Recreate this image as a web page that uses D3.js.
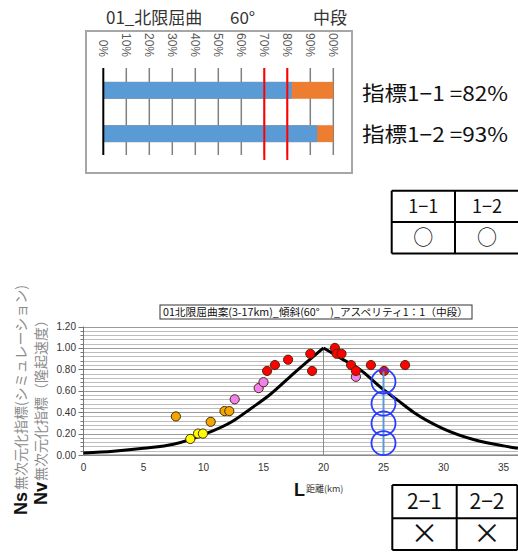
<!DOCTYPE html>
<html>
<head>
<meta charset="utf-8">
<script src="https://cdn.jsdelivr.net/npm/d3@7"></script>
<style>
  body { margin: 0; background: #fff; }
  svg { display: block; font-family: "Noto Sans CJK JP", sans-serif; }
</style>
</head>
<body>
<svg id="chart" width="518" height="552"></svg>
<script>
// --- top chart: indicator bars ---
var barCats = ["1-1", "1-2"];
var barBlue = [82, 93];          // percent
var barTicks = [0, 10, 20, 30, 40, 50, 60, 70, 80, 90, 100];
var redLines = [70, 80];

// --- bottom chart: ratio vs distance ---
var curveLeftX  = [0, 2.5, 5, 7.5, 10, 12.5, 13.9, 15.5, 17.5, 20];
var curveLeftY  = [0.018, 0.035, 0.062, 0.10, 0.19, 0.32, 0.43, 0.56, 0.76, 1.0];
var curveRightX = [20, 21.5, 23, 25, 26.2, 27.5, 30, 32.5, 35, 36.2];
var curveRightY = [1.0, 0.9, 0.8, 0.61, 0.51, 0.40, 0.245, 0.145, 0.085, 0.063];

var yellowPts = [[8.9, 0.15], [9.55, 0.2], [9.95, 0.2]];
var orangePts = [[7.7, 0.36], [10.6, 0.31], [11.75, 0.41], [12.15, 0.41]];
var pinkPts   = [[12.6, 0.52], [14.6, 0.625], [15.0, 0.68], [22.7, 0.73]];
var redPts    = [[15.3, 0.785], [15.95, 0.84], [17.05, 0.89], [18.9, 0.945], [19.05, 0.785],
                 [20.95, 1.0], [21.1, 0.945], [21.5, 0.945], [22.3, 0.84], [22.7, 0.785],
                 [23.95, 0.84], [25.05, 0.785], [26.8, 0.84]];
var obsX = 25, obsTop = 0.78;
var loopCenters = [0.685, 0.48, 0.295, 0.11];
var xTicks = [0, 5, 10, 15, 20, 25, 30, 35];
var yTicks = [0, 0.2, 0.4, 0.6, 0.8, 1.0, 1.2];
var yGrid = d3.range(0, 31).map(function(i) { return i * 0.04; });

var svg = d3.select("#chart");

// ===== top chart =====
svg.append("text").attr("x", 106).attr("y", 24).attr("font-size", 17).attr("fill", "#333")
  .text("01_北限屈曲");
svg.append("text").attr("x", 230).attr("y", 24).attr("font-size", 17).attr("fill", "#333")
  .text("60°");
svg.append("text").attr("x", 313).attr("y", 24).attr("font-size", 17).attr("fill", "#333")
  .text("中段");

svg.append("clipPath").attr("id", "boxclip")
  .append("rect").attr("x", 87).attr("y", 32).attr("width", 264).attr("height", 140);

var topG = svg.append("g");
topG.append("rect").attr("x", 86).attr("y", 31).attr("width", 266).attr("height", 142)
  .attr("fill", "#fff").attr("stroke", "#a6a6a6").attr("stroke-width", 2);

var bx = d3.scaleLinear().domain([0, 100]).range([103.3, 333.3]);
var by = d3.scaleBand().domain(barCats).range([68, 156]).paddingInner(0.61).paddingOuter(0.32);

topG.append("g").attr("clip-path", "url(#boxclip)")
  .selectAll("text").data(barTicks).enter().append("text")
  .attr("transform", function(d) { return "translate(" + bx(d) + ",57) rotate(90)"; })
  .attr("text-anchor", "end").attr("dy", "0.35em")
  .attr("font-family", "Liberation Sans, Arial, sans-serif")
  .attr("font-size", 12).attr("fill", "#595959")
  .text(function(d) { return d + "%"; });

topG.selectAll(".grid").data(barTicks.slice(1)).enter().append("line")
  .attr("x1", bx).attr("x2", bx).attr("y1", 68).attr("y2", 155)
  .attr("stroke", "#808080").attr("stroke-width", 1.5);

topG.selectAll(".orange").data(barCats).enter().append("rect")
  .attr("x", bx(0)).attr("y", function(d) { return by(d); })
  .attr("width", bx(100) - bx(0)).attr("height", by.bandwidth())
  .attr("fill", "#ED7D31");
topG.selectAll(".blue").data(barCats).enter().append("rect")
  .attr("x", bx(0)).attr("y", function(d) { return by(d); })
  .attr("width", function(d, i) { return bx(barBlue[i]) - bx(0); })
  .attr("height", by.bandwidth())
  .attr("fill", "#5B9BD5");

topG.append("line").attr("x1", bx(0)).attr("x2", bx(0)).attr("y1", 68).attr("y2", 155)
  .attr("stroke", "#000").attr("stroke-width", 2);

topG.selectAll(".red").data(redLines).enter().append("line")
  .attr("x1", bx).attr("x2", bx).attr("y1", 68).attr("y2", 160)
  .attr("stroke", "#ff0000").attr("stroke-width", 2);

// indicator texts
barCats.forEach(function(c, i) {
  svg.append("text").attr("x", 362).attr("y", [101, 142][i])
    .attr("font-size", 20).attr("fill", "#111")
    .attr("textLength", 146).attr("lengthAdjust", "spacingAndGlyphs")
    .text("指標" + c.replace("-", "−") + " =" + barBlue[i] + "%");
});

// judgement tables
function table(x0, x1, xm, ys, heads, marks, rightBorder, headSize, markSize) {
  var g = svg.append("g").attr("stroke", "#000").attr("stroke-width", 2);
  ys.forEach(function(yy) {
    g.append("line").attr("x1", x0).attr("x2", x1).attr("y1", yy).attr("y2", yy);
  });
  var xs = rightBorder ? [x0, xm, x1] : [x0, xm];
  xs.forEach(function(xx) {
    g.append("line").attr("x1", xx).attr("x2", xx).attr("y1", ys[0]).attr("y2", ys[2]);
  });
  var cx = [(x0 + xm) / 2, (xm + (rightBorder ? x1 : xm + 64)) / 2];
  heads.forEach(function(h, i) {
    svg.append("text").attr("x", cx[i]).attr("y", (ys[0] + ys[1]) / 2).attr("dy", "0.36em")
      .attr("text-anchor", "middle").attr("font-size", headSize).attr("fill", "#111").text(h);
    svg.append("text").attr("x", cx[i]).attr("y", (ys[1] + ys[2]) / 2).attr("dy", "0.36em")
      .attr("text-anchor", "middle").attr("font-size", markSize).attr("fill", "#111").text(marks[i]);
  });
}
table(391.7, 520, 455, [190.7, 222, 253.5], ["1−1", "1−2"], ["○", "○"], false, 18, 20);
table(392.3, 517.3, 456.7, [485, 518.3, 550], ["2−1", "2−2"], ["×", "×"], true, 21, 28);

// ===== bottom chart =====
var x = d3.scaleLinear().domain([0, 36.2]).range([83.5, 517.9]);
var y = d3.scaleLinear().domain([0, 1.2]).range([455, 326.5]);

var plot = svg.append("g");
plot.selectAll(".hg").data(yGrid).enter().append("line")
  .attr("x1", x(0)).attr("x2", 518)
  .attr("y1", function(d) { return Math.round(y(d)) + 0.5; })
  .attr("y2", function(d) { return Math.round(y(d)) + 0.5; })
  .attr("stroke", function(d, i) { return i % 5 === 0 ? "#9a9a9a" : "#bdbdbd"; })
  .attr("stroke-width", 1);

// y axis with minor ticks
plot.append("line").attr("x1", x(0)).attr("x2", x(0)).attr("y1", y(0)).attr("y2", y(1.2))
  .attr("stroke", "#777").attr("stroke-width", 1);
plot.selectAll(".yt").data(yGrid).enter().append("line")
  .attr("x1", function(d, i) { return x(0) - (i % 5 === 0 ? 5 : 3); }).attr("x2", x(0))
  .attr("y1", function(d) { return Math.round(y(d)) + 0.5; })
  .attr("y2", function(d) { return Math.round(y(d)) + 0.5; })
  .attr("stroke", "#777");
plot.selectAll(".yl").data(yTicks).enter().append("text")
  .attr("x", 76).attr("y", y).attr("dy", "0.35em").attr("text-anchor", "end")
  .attr("font-family", "Liberation Sans, Arial, sans-serif").attr("font-size", 10).attr("fill", "#333")
  .text(d3.format(".2f"));

plot.append("line").attr("x1", x(0)).attr("x2", 518).attr("y1", y(0)).attr("y2", y(0))
  .attr("stroke", "#777");
plot.selectAll(".xl").data(xTicks).enter().append("text")
  .attr("x", x).attr("y", 467).attr("dy", "0.35em").attr("text-anchor", "middle")
  .attr("font-family", "Liberation Sans, Arial, sans-serif").attr("font-size", 10).attr("fill", "#333")
  .text(function(d) { return d; });

// vertical line at peak
plot.append("line").attr("x1", x(20)).attr("x2", x(20)).attr("y1", y(0)).attr("y2", y(1.0))
  .attr("stroke", "#8c8c8c").attr("stroke-width", 1);

// attenuation curve (two halves for a sharp peak)
var line = d3.line().x(function(d) { return x(d[0]); }).y(function(d) { return y(d[1]); })
  .curve(d3.curveMonotoneX);
[d3.zip(curveLeftX, curveLeftY), d3.zip(curveRightX, curveRightY)].forEach(function(pts) {
  plot.append("path").attr("d", line(pts)).attr("fill", "none")
    .attr("stroke", "#000").attr("stroke-width", 3).attr("stroke-linejoin", "round");
});

// scatter points
[[yellowPts, "#ffff00"], [orangePts, "#f0a800"], [pinkPts, "#ee82ee"], [redPts, "#ff0000"]]
  .forEach(function(s) {
    plot.selectAll(null).data(s[0]).enter().append("circle")
      .attr("cx", function(d) { return x(d[0]); }).attr("cy", function(d) { return y(d[1]); })
      .attr("r", 4.6).attr("fill", s[1]).attr("stroke", "#4a2a10").attr("stroke-width", 1);
  });

// observation column with loops
plot.append("line").attr("x1", x(obsX)).attr("x2", x(obsX)).attr("y1", y(0)).attr("y2", y(obsTop))
  .attr("stroke", "#5b9bd5").attr("stroke-width", 2);
plot.selectAll(".loop").data(loopCenters).enter().append("circle")
  .attr("cx", x(obsX)).attr("cy", y).attr("r", 12)
  .attr("fill", "none").attr("stroke", "#2a3cff").attr("stroke-width", 1.8);

// chart title box
svg.append("rect").attr("x", 160).attr("y", 305).attr("width", 312).attr("height", 14)
  .attr("fill", "#fff").attr("stroke", "#333").attr("stroke-width", 1);
svg.append("text").attr("x", 163).attr("y", 312).attr("dy", "0.36em").attr("font-size", 10.5)
  .attr("fill", "#111").attr("textLength", 305).attr("lengthAdjust", "spacingAndGlyphs")
  .text("01北限屈曲案(3-17km)_傾斜(60°　)_アスペリティ1：1（中段）");

// axis titles
svg.append("text").attr("transform", "translate(20.5,490) rotate(-90)").attr("dy", "0.36em")
  .attr("font-size", 14).attr("fill", "#8c8c8c").text("無次元化指標(シミュレーション)");
svg.append("text").attr("transform", "translate(20.5,515) rotate(-90)").attr("dy", "0.36em")
  .attr("font-family", "Liberation Sans, Arial, sans-serif").attr("font-weight", "bold")
  .attr("font-size", 18).attr("fill", "#111").text("Ns");
svg.append("text").attr("transform", "translate(41,481) rotate(-90)").attr("dy", "0.36em")
  .attr("font-size", 14).attr("fill", "#8c8c8c").text("無次元化指標（隆起速度）");
svg.append("text").attr("transform", "translate(41,505) rotate(-90)").attr("dy", "0.36em")
  .attr("font-family", "Liberation Sans, Arial, sans-serif").attr("font-weight", "bold")
  .attr("font-size", 18).attr("fill", "#111").text("Nv");

svg.append("text").attr("x", 294).attr("y", 496)
  .attr("font-family", "Liberation Sans, Arial, sans-serif").attr("font-weight", "bold")
  .attr("font-size", 18).attr("fill", "#111").text("L");
svg.append("text").attr("x", 306).attr("y", 492).attr("font-size", 9).attr("fill", "#333")
  .text("距離(km)");
</script>
</body>
</html>
